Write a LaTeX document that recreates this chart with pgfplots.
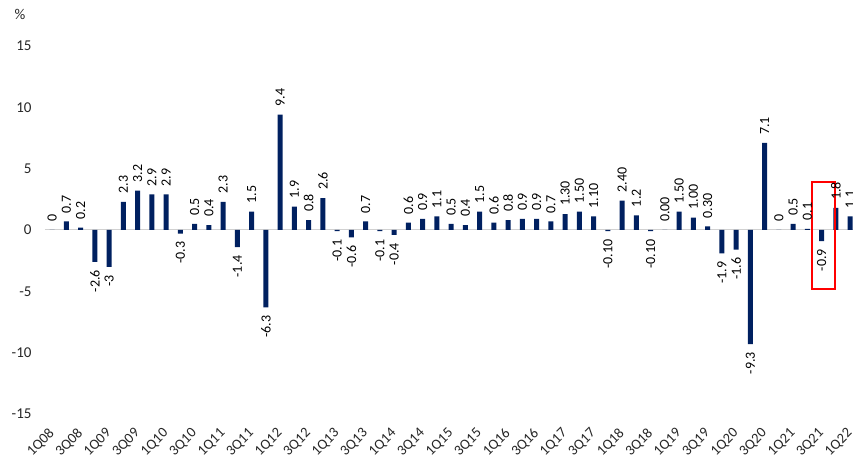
\documentclass[border=0pt]{standalone}
\usepackage{fontspec}
\setmainfont{Carlito}
\usepackage{pgfplots}
\usepackage{pgfplotstable}
\pgfplotsset{compat=1.18}
\definecolor{navy}{HTML}{002060}
\pgfplotstableread{
x y lab
0 0 0
1 0.7 0.7
2 0.2 0.2
5 2.3 2.3
6 3.2 3.2
7 2.9 2.9
8 2.9 2.9
10 0.5 0.5
11 0.4 0.4
12 2.3 2.3
14 1.5 1.5
16 9.4 9.4
17 1.9 1.9
18 0.8 0.8
19 2.6 2.6
22 0.7 0.7
25 0.6 0.6
26 0.9 0.9
27 1.1 1.1
28 0.5 0.5
29 0.4 0.4
30 1.5 1.5
31 0.6 0.6
32 0.8 0.8
33 0.9 0.9
34 0.9 0.9
35 0.7 0.7
36 1.30 1.30
37 1.50 1.50
38 1.10 1.10
40 2.40 2.40
41 1.2 1.2
43 0.00 0.00
44 1.50 1.50
45 1.00 1.00
46 0.30 0.30
50 7.1 7.1
51 0 0
52 0.5 0.5
53 0.1 0.1
55 1.8 1.8
56 1.1 1.1
}\pos
\pgfplotstableread{
x y lab
3 -2.6 -2.6
4 -3 -3
9 -0.3 -0.3
13 -1.4 -1.4
15 -6.3 -6.3
20 -0.1 -0.1
21 -0.6 -0.6
23 -0.1 -0.1
24 -0.4 -0.4
39 -0.10 -0.10
42 -0.10 -0.10
47 -1.9 -1.9
48 -1.6 -1.6
49 -9.3 -9.3
54 -0.9 -0.9
}\neg
\begin{document}
\begin{tikzpicture}
\begin{axis}[
  scale only axis,
  width=808pt, height=368pt,
  xmin=-0.5, xmax=56.2,
  ymin=-15, ymax=15,
  ytick={-15,-10,...,15},
  xtick={0,2,...,56},
  xticklabels={1Q08,3Q08,1Q09,3Q09,1Q10,3Q10,1Q11,3Q11,1Q12,3Q12,1Q13,3Q13,1Q14,3Q14,1Q15,3Q15,1Q16,3Q16,1Q17,3Q17,1Q18,3Q18,1Q19,3Q19,1Q20,3Q20,1Q21,3Q21,1Q22},
  axis line style={draw=none},
  major tick length=0pt,
  /pgf/number format/assume math mode=true,
  yticklabel style={font=\fontsize{15}{18}\selectfont, xshift=-10pt, text=black!85},
  xticklabel style={font=\fontsize{14.5}{16}\selectfont, yshift=-17pt, rotate=45, anchor=east, inner sep=0pt, text=black!85},
  extra y ticks={0},
  extra y tick labels={},
  extra y tick style={grid=major, major grid style={black!18, line width=1pt}},
  ybar, bar width=5pt, bar shift=0pt,
  point meta=explicit symbolic,
  nodes near coords,
  clip=false,
]
\addplot[fill=navy, draw=none,
  nodes near coords style={font=\fontsize{14}{16}\selectfont, rotate=90, anchor=west, inner xsep=8pt, inner ysep=0pt, text=black}]
  table[x=x, y=y, meta=lab] {\pos};
\addplot[fill=navy, draw=none,
  nodes near coords style={font=\fontsize{14}{16}\selectfont, rotate=90, anchor=east, inner xsep=8pt, inner ysep=0pt, text=black}]
  table[x=x, y=y, meta=lab] {\neg};
\draw[red, line width=1.3pt] (axis cs:53.33,3.91) rectangle (axis cs:54.94,-4.81);
\end{axis}
\node[font=\fontsize{15}{18}\selectfont, text=black!85] at ([xshift=-25pt, yshift=32pt]current axis.north west) {\%};
\pgfresetboundingbox
\path ([xshift=-45pt, yshift=-50pt]current axis.south west) rectangle ([yshift=46pt]current axis.north east);
\end{tikzpicture}
\end{document}
